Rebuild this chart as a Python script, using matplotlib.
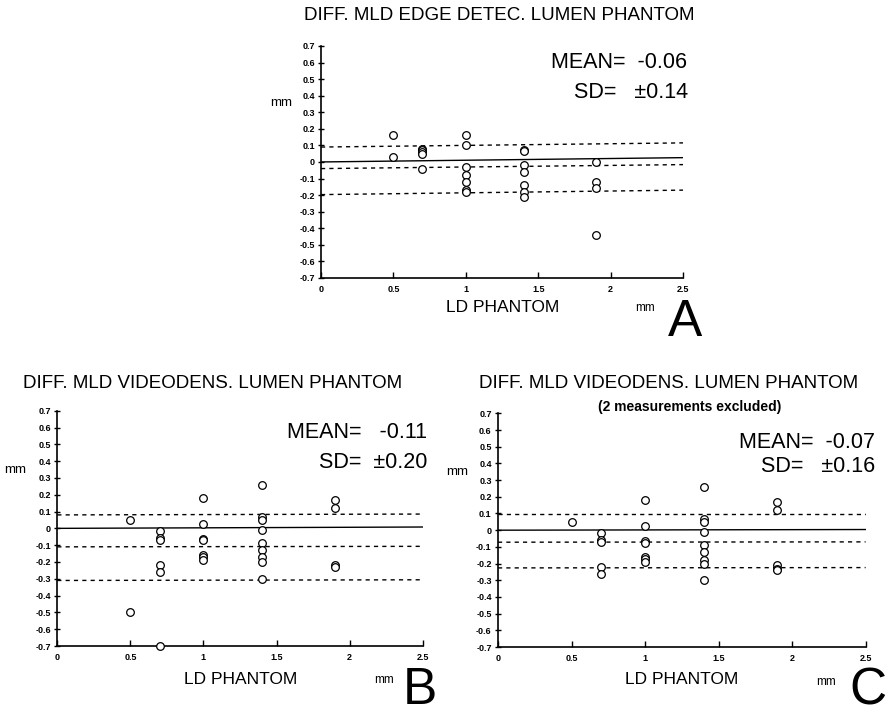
import numpy as np
import matplotlib
matplotlib.use("Agg")
import matplotlib.pyplot as plt

plt.rcParams['font.family'] = ['Liberation Sans', 'DejaVu Sans']

# panel A - edge detection
a_x = [0.5, 0.5, 0.7, 0.7, 0.7, 0.7, 0.7,
       1.0, 1.0, 1.0, 1.0, 1.0, 1.0, 1.0,
       1.4, 1.4, 1.4, 1.4, 1.4, 1.4, 1.4,
       1.9, 1.9, 1.9, 1.9]
a_y = [0.16, 0.03, 0.08, 0.07, 0.06, 0.05, -0.04,
       0.165, 0.10, -0.03, -0.08, -0.12, -0.17, -0.18,
       0.075, 0.065, -0.02, -0.06, -0.14, -0.18, -0.21,
       0.0, -0.12, -0.16, -0.44]
# regression line and bands: value at x=0 and at x=2.5
a_lines_start = [0.09, 0.0, -0.04, -0.197]
a_lines_end = [0.115, 0.026, -0.016, -0.17]

# panel B - videodensitometry
b_x = [0.5, 0.5, 0.7, 0.7, 0.7, 0.7, 0.7, 0.7,
       1.0, 1.0, 1.0, 1.0, 1.0, 1.0, 1.0,
       1.4, 1.4, 1.4, 1.4, 1.4, 1.4, 1.4, 1.4, 1.4,
       1.9, 1.9, 1.9, 1.9]
b_y = [0.05, -0.50, -0.015, -0.06, -0.07, -0.22, -0.26, -0.70,
       0.18, 0.025, -0.065, -0.07, -0.16, -0.17, -0.19,
       0.26, 0.07, 0.05, -0.01, -0.09, -0.13, -0.17, -0.20, -0.30,
       0.17, 0.12, -0.22, -0.23]
b_lines_start = [0.08, 0.0, -0.11, -0.31]
b_lines_end = [0.085, 0.008, -0.107, -0.306]

# panel C - videodensitometry, 2 excluded
c_x = [0.5, 0.7, 0.7, 0.7, 0.7, 0.7,
       1.0, 1.0, 1.0, 1.0, 1.0, 1.0, 1.0,
       1.4, 1.4, 1.4, 1.4, 1.4, 1.4, 1.4, 1.4, 1.4,
       1.9, 1.9, 1.9, 1.9, 1.9]
c_y = [0.05, -0.018, -0.06, -0.07, -0.22, -0.26,
       0.18, 0.024, -0.066, -0.076, -0.16, -0.17, -0.19,
       0.26, 0.07, 0.05, -0.01, -0.09, -0.13, -0.18, -0.20, -0.30,
       0.17, 0.12, -0.21, -0.23, -0.24]
c_lines_start = [0.096, 0.0, -0.072, -0.226]
c_lines_end = [0.096, 0.004, -0.070, -0.224]

x_ticks = [0, 0.5, 1, 1.5, 2, 2.5]
x_tick_labels = ['0', '0.5', '1', '1.5', '2', '2.5']
y_ticks = [0.7, 0.6, 0.5, 0.4, 0.3, 0.2, 0.1, 0, -0.1, -0.2, -0.3, -0.4, -0.5, -0.6, -0.7]
y_tick_labels = ['0.7', '0.6', '0.5', '0.4', '0.3', '0.2', '0.1', '0',
                 '-0.1', '-0.2', '-0.3', '-0.4', '-0.5', '-0.6', '-0.7']

line_styles = ['--', '-', '--', '--']


def draw_panel(ax, xs, ys, starts, ends):
    for s, e, ls in zip(starts, ends, line_styles):
        ax.plot([0, 2.5], [s, e], color='black', lw=1.0, linestyle=ls,
                dashes=(3, 3) if ls == '--' else (None, None), zorder=2)
    ax.plot(xs, ys, 'o', mfc='white', mec='black', ms=5.5, mew=0.9, zorder=3,
            clip_on=False)
    ax.set_xlim(0, 2.5)
    ax.set_ylim(-0.7, 0.7)
    ax.set_xticks(x_ticks)
    ax.set_xticklabels(x_tick_labels, fontsize=6.5, fontweight='bold')
    ax.set_yticks(y_ticks)
    ax.set_yticklabels(y_tick_labels, fontsize=6.5, fontweight='bold')
    ax.tick_params(axis='y', direction='inout', length=5, width=1, pad=2)
    ax.tick_params(axis='x', direction='in', length=4, width=1, pad=5)
    ax.spines['top'].set_visible(False)
    ax.spines['right'].set_visible(False)
    ax.spines['left'].set_linewidth(1.2)
    ax.spines['bottom'].set_linewidth(1.2)


fig = plt.figure(figsize=(8.88, 7.19), dpi=100)

ax_a = fig.add_axes([0.3615, 0.6134, 0.4077, 0.3227])
ax_b = fig.add_axes([0.0645, 0.1015, 0.4115, 0.3273])
ax_c = fig.add_axes([0.5608, 0.1001, 0.4140, 0.3250])

draw_panel(ax_a, a_x, a_y, a_lines_start, a_lines_end)
draw_panel(ax_b, b_x, b_y, b_lines_start, b_lines_end)
draw_panel(ax_c, c_x, c_y, c_lines_start, c_lines_end)


def px(x, y):
    return x / 888, 1 - y / 719


# titles
fig.text(*px(499, 15), 'DIFF. MLD EDGE DETEC. LUMEN PHANTOM', ha='center', va='center', fontsize=13.5)
fig.text(*px(213, 383), 'DIFF. MLD VIDEODENS. LUMEN PHANTOM', ha='center', va='center', fontsize=13.5)
fig.text(*px(669, 383), 'DIFF. MLD VIDEODENS. LUMEN PHANTOM', ha='center', va='center', fontsize=13.5)
fig.text(*px(690, 407), '(2 measurements excluded)', ha='center', va='center', fontsize=10,
         fontweight='bold')

# mean / sd
fig.text(*px(687, 62), 'MEAN=  -0.06', ha='right', va='center', fontsize=15.5)
fig.text(*px(688, 93), 'SD=   ±0.14', ha='right', va='center', fontsize=15.5)
fig.text(*px(427, 433), 'MEAN=   -0.11', ha='right', va='center', fontsize=15.5)
fig.text(*px(427, 463), 'SD=  ±0.20', ha='right', va='center', fontsize=15.5)
fig.text(*px(875, 443), 'MEAN=  -0.07', ha='right', va='center', fontsize=15.5)
fig.text(*px(875, 467), 'SD=   ±0.16', ha='right', va='center', fontsize=15.5)

# axis labels
fig.text(*px(281, 103), 'mm', ha='center', va='center', fontsize=9.5)
fig.text(*px(15, 470), 'mm', ha='center', va='center', fontsize=9.5)
fig.text(*px(457, 472), 'mm', ha='center', va='center', fontsize=9.5)

fig.text(*px(503, 308), 'LD PHANTOM', ha='center', va='center', fontsize=12.5)
fig.text(*px(241, 680), 'LD PHANTOM', ha='center', va='center', fontsize=12.5)
fig.text(*px(682, 680), 'LD PHANTOM', ha='center', va='center', fontsize=12.5)

fig.text(*px(645, 308), 'mm', ha='center', va='center', fontsize=8.5)
fig.text(*px(384, 680), 'mm', ha='center', va='center', fontsize=8.5)
fig.text(*px(826, 682), 'mm', ha='center', va='center', fontsize=8.5)

# panel letters
fig.text(*px(702, 323), 'A', ha='right', va='center', fontsize=37)
fig.text(*px(437, 690), 'B', ha='right', va='center', fontsize=37)
fig.text(*px(886, 691), 'C', ha='right', va='center', fontsize=37)

fig.savefig('out.png', dpi=100, facecolor='white')
